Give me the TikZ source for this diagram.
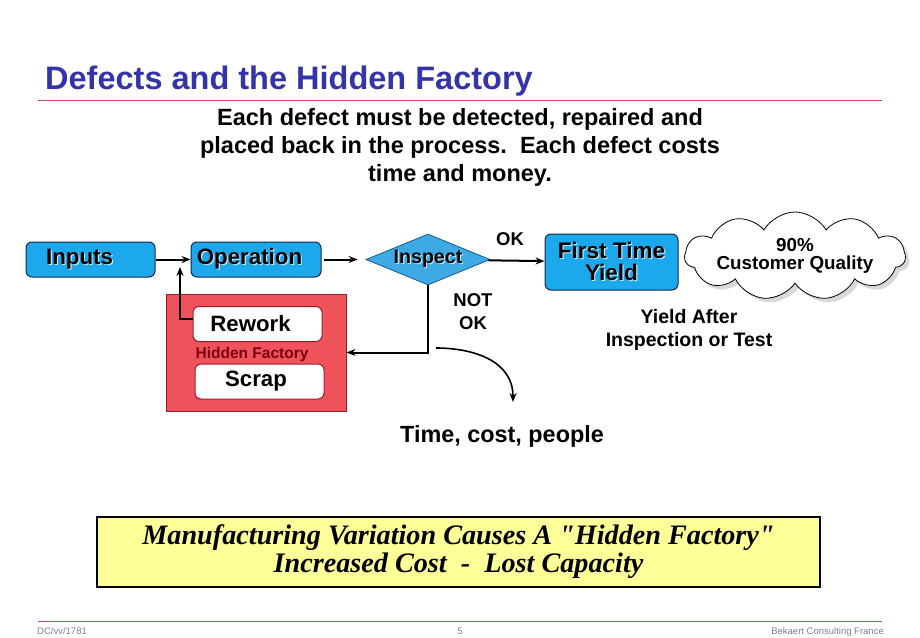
\documentclass[tikz,border=0pt]{standalone}
\usepackage{fontspec}
\setmainfont{Liberation Sans}
\newfontfamily\timesfont{Liberation Serif}
\usepackage{tikz}
\usetikzlibrary{positioning,shapes.geometric,shapes.symbols,shadows,arrows,arrows.meta,calc}

\definecolor{titleblue}{RGB}{51,51,170}
\definecolor{boxblue}{RGB}{28,168,236}
\definecolor{diamondblue}{RGB}{62,170,228}
\definecolor{boxedge}{RGB}{20,40,70}
\definecolor{factoryred}{RGB}{240,82,92}
\definecolor{factoryedge}{RGB}{150,30,40}
\definecolor{hiddenred}{RGB}{120,0,20}
\definecolor{ruleline}{RGB}{200,70,90}
\definecolor{noteyellow}{RGB}{255,255,153}
\definecolor{footgray}{RGB}{120,130,150}

\newcommand{\shadowtext}[1]{\makebox[0pt][l]{\hspace{1.2pt}\raisebox{-1.2pt}{\color{white!75!boxblue}#1}}#1}

\begin{document}
\begin{tikzpicture}[x=1pt, y=-1pt, >={Stealth[length=9pt,width=7pt]},
	blue box/.style={draw=boxedge, line width=1pt, fill=boxblue, rounded corners=6pt,
		minimum height=35pt, inner sep=0pt, font=\fontsize{22.3}{24}\selectfont\bfseries},
	white box/.style={draw=factoryedge, line width=1pt, fill=white, rounded corners=6pt,
		minimum width=129pt, minimum height=35pt, inner sep=0pt, font=\fontsize{22.2}{24}\selectfont\bfseries},
	label text/.style={align=center, font=\fontsize{18.5}{23}\selectfont\bfseries},
	conn/.style={->, line width=2pt}]
	
	\useasboundingbox (0,0) rectangle (920,637);
	
	% header
	\node [anchor=base west, inner sep=0pt, text=titleblue, font=\fontsize{32.5}{36}\selectfont\bfseries] (title) at (45,89) {Defects and the Hidden Factory};
	\draw [ruleline, line width=0.8pt] (38,100) -- (882,100);
	
	\node [align=center, font=\fontsize{23.5}{28}\selectfont\bfseries] (intro) at (460,147)
	{Each defect must be detected, repaired and\\placed back in the process.\ \ Each defect costs\\time and money.};
	
	% process
	\node [blue box, minimum width=129pt] (inputs) at (90.5,259.5) {\shadowtext{Inputs}\hspace*{22pt}};
	\node [blue box, minimum width=130pt] (operation) at (256,259.5) {\shadowtext{Operation}\hspace*{13pt}};
	\node [diamond, aspect=2.4, draw=boxedge!60!boxblue, line width=0.8pt, fill=diamondblue, inner sep=0pt,
		minimum width=124pt, minimum height=51pt, font=\fontsize{19.6}{20}\selectfont\bfseries] (inspect) at (428,259.5) {\shadowtext{Inspect}};
	\node [blue box, minimum width=133pt, minimum height=56pt, align=center, font=\fontsize{22.5}{22}\selectfont\bfseries] (first-yield) at (611.5,262)
	{\shadowtext{First Time}\\\shadowtext{Yield}};
	\node [cloud, cloud puffs=11, cloud puff arc=120, cloud ignores aspect, draw, line width=0.8pt, fill=white, inner sep=0pt,
		minimum width=210pt, minimum height=88pt, align=center, font=\fontsize{18.8}{18}\selectfont\bfseries,
		drop shadow={shadow xshift=4pt, shadow yshift=-4pt, fill=black!30}] (quality) at (795,256)
	{90\%\\Customer Quality};
	
	\node [label text] (ok) at (510,239) {OK};
	\node [label text] (not-ok) at (473,312) {NOT\\OK};
	\node [label text, font=\fontsize{19.5}{23}\selectfont\bfseries] (after-yield) at (689,330) {Yield After\\Inspection or Test};
	
	% hidden factory
	\node [draw=factoryedge, line width=1pt, fill=factoryred, minimum width=180pt, minimum height=117pt] (factory) at (256,352.5) {};
	\node [white box] (rework) at (257.5,324) {Rework\hspace*{14pt}};
	\node [text=hiddenred, font=\fontsize{15.5}{17}\selectfont\bfseries] (hidden) at (252,354) {Hidden Factory};
	\node [white box] (scrap) at (259.5,381.5) {Scrap\hspace*{7pt}};
	
	\node [font=\fontsize{23.4}{26}\selectfont\bfseries] (losses) at (502,436) {Time, cost, people};
	
	\coordinate (join) at (180,267);
	\coordinate (loss-start) at (436,348);
	\coordinate (loss-end) at (513,402);
	
	\draw [conn] (inputs) -- (operation);
	\draw [conn, shorten >=8pt, shorten <=2pt] (operation) -- (inspect);
	\draw [conn] (inspect) -- (first-yield);
	\draw [conn] (inspect.south) |- (factory.east);
	\draw [conn] ([yshift=5pt]rework.west) -| (join);
	\draw [->, line width=1.6pt] (loss-start) .. controls (472,348) and (513,360) .. (loss-end);
	
	% message
	\node [draw, line width=2pt, fill=noteyellow, minimum width=723pt, minimum height=70pt, align=center,
		font=\timesfont\bfseries\itshape\fontsize{28.2}{28}\selectfont] (message) at (458.5,552)
	{Manufacturing Variation Causes A "Hidden Factory"\\Increased Cost\ \ -\ \ Lost Capacity};
	
	% footer
	\draw [ruleline, line width=0.8pt] (38,621) -- (882,621);
	\node [anchor=base west, inner sep=0pt, text=footgray, font=\fontsize{9.5}{11}\selectfont] (foot-left) at (37,634) {DC/vv/1781};
	\node [anchor=base, inner sep=0pt, text=footgray, font=\fontsize{9.5}{11}\selectfont] (foot-page) at (460,634) {5};
	\node [anchor=base east, inner sep=0pt, text=footgray, font=\fontsize{9.5}{11}\selectfont] (foot-right) at (884,634) {Bekaert Consulting France};
	
\end{tikzpicture}
\end{document}
